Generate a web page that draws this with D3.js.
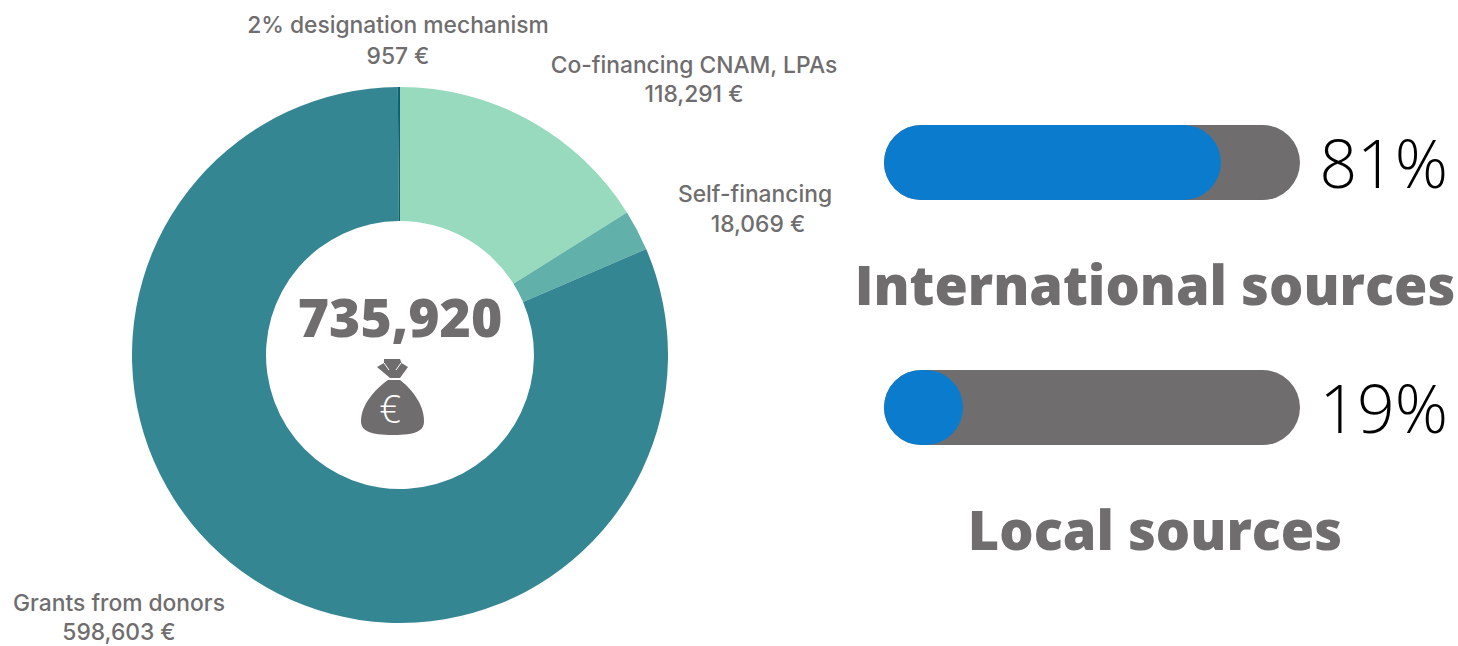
<!DOCTYPE html>
<html>
<head>
<meta charset="utf-8">
<script src="https://cdn.jsdelivr.net/npm/d3@7"></script>
<style>
    html, body { margin: 0; padding: 0; background: #fff; overflow: hidden; }
    text { fill: #6f6d6e; }
    .label { font-family: Inter, sans-serif; font-size: 22.8px; font-weight: 500; text-anchor: middle; }
    .pct { font-family: "Open Sans", sans-serif; font-weight: 300; font-size: 66px; fill: #000; text-anchor: end; }
    .source { font-family: "Open Sans", sans-serif; font-weight: 800; font-size: 54px; text-anchor: middle; }
    .total { font-family: "Open Sans", sans-serif; font-weight: 800; font-size: 53.5px; text-anchor: middle; }
</style>
</head>
<body>
<div class="chart"></div>
<script>
// donut data, clockwise from 12 o'clock
const categories = ["Co-financing CNAM, LPAs", "Self-financing", "Grants from donors", "2% designation mechanism"];
const amounts = [118291, 18069, 598603, 957];
const amountLabels = ["118,291 €", "18,069 €", "598,603 €", "957 €"];
const sliceColors = ["#97dabe", "#61b0aa", "#358693", "#0f5f75"];
const totalLabel = "735,920";

// progress bars
const sourceNames = ["International sources", "Local sources"];
const sourceShares = [81, 19];

const width = 1458, height = 646;

const svg = d3.select(".chart").append("svg")
    .attr("width", width)
    .attr("height", height)
    .style("display", "block");

// donut
const cx = 400, cy = 355, outerR = 268, innerR = 134;

const pie = d3.pie().sort(null);
const arc = d3.arc().innerRadius(innerR).outerRadius(outerR);

const donut = svg.append("g")
    .attr("transform", "translate(" + cx + "," + cy + ")");

donut.selectAll("path")
    .data(pie(amounts))
    .join("path")
    .attr("d", arc)
    .attr("fill", (d, i) => sliceColors[i]);

// slice labels, placed by hand like the original
const labelPos = [[694, 73], [755, 202], [119, 611], [398, 33]];
const amountX = [694, 758, 119, 398];
const amountY = [102, 232, 640, 64];

const labels = svg.append("g").selectAll("text")
    .data(categories)
    .join("text")
    .attr("class", "label")
    .attr("x", (d, i) => labelPos[i][0])
    .attr("y", (d, i) => labelPos[i][1]);

labels.append("tspan").text(d => d);
labels.append("tspan")
    .attr("x", (d, i) => amountX[i])
    .attr("y", (d, i) => amountY[i])
    .text((d, i) => amountLabels[i]);

// centre total
svg.append("text")
    .attr("class", "total")
    .attr("x", 400)
    .attr("y", 337)
    .text(totalLabel);

// money bag icon
const bag = svg.append("g").attr("transform", "translate(290,280)");
// body
bag.append("path")
    .attr("fill", "#6f6d6e")
    .attr("d", "M98 100 L110 100 C122 109 134 125 134 141 C134 151 126 155 103 155 C80 155 71 151 71 141 C71 125 85 109 98 100 Z");
// knot
bag.append("path")
    .attr("fill", "#6f6d6e")
    .attr("d", "M94 79 L110 79 L111.5 83 L118 87 L110 98 L100 98 L87 87 L94 83 Z");
// slits in the knot
bag.append("path")
    .attr("fill", "none")
    .attr("stroke", "#fff")
    .attr("stroke-width", 1)
    .attr("d", "M94 83 L99 90 M111 83 L106 90");
bag.append("text")
    .attr("x", 100)
    .attr("y", 143)
    .attr("text-anchor", "middle")
    .style("font-family", "'Open Sans', sans-serif")
    .style("font-weight", 300)
    .style("font-size", "38px")
    .style("fill", "#fff")
    .text("€");

// progress bars
const barX = d3.scaleLinear().domain([0, 100]).range([884, 1300]);
const barH = 75;
const barTops = [125, 370];
const pctRight = 1448;
const pctBase = [188, 433];
const nameBase = [305, 550];
const nameX = [1155, 1155];

const bars = svg.append("g").selectAll("g")
    .data(sourceShares)
    .join("g");

bars.append("rect")
    .attr("x", barX(0))
    .attr("y", (d, i) => barTops[i])
    .attr("width", barX(100) - barX(0))
    .attr("height", barH)
    .attr("rx", barH / 2)
    .attr("fill", "#6f6d6e");

bars.append("rect")
    .attr("x", barX(0))
    .attr("y", (d, i) => barTops[i])
    .attr("width", d => barX(d) - barX(0))
    .attr("height", barH)
    .attr("rx", barH / 2)
    .attr("fill", "#0b7bcd");

bars.append("text")
    .attr("class", "pct")
    .attr("x", pctRight)
    .attr("y", (d, i) => pctBase[i])
    .text(d => d + "%");

bars.append("text")
    .attr("class", "source")
    .attr("x", (d, i) => nameX[i])
    .attr("y", (d, i) => nameBase[i])
    .text((d, i) => sourceNames[i]);
</script>
</body>
</html>
